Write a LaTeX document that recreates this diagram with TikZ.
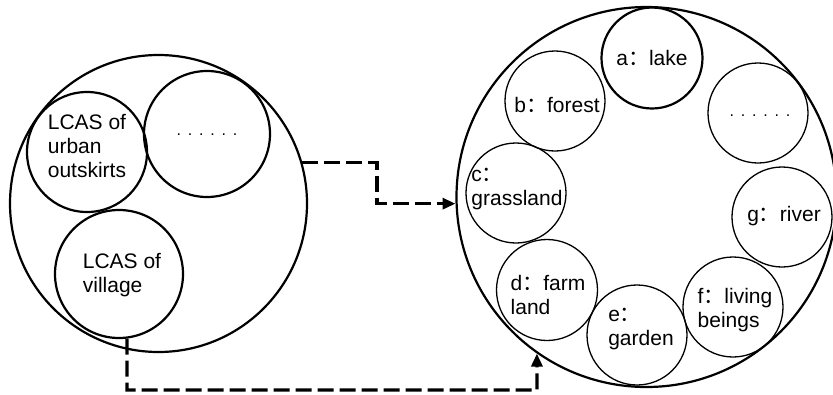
\documentclass[tikz,border=0pt]{standalone}
\usepackage{fontspec}
\setmainfont{Liberation Sans}
\newfontfamily\cjk{Noto Sans CJK SC}
\usetikzlibrary{arrows.meta}

\tikzset{
	zone/.style={draw, circle, inner sep=0pt, line width=1.3pt},
	bold zone/.style={zone, line width=2.2pt},
	tag/.style={align=left, inner sep=0pt, font=\fontsize{21}{24}\selectfont},
	dots/.style={inner sep=0pt, font=\fontsize{16}{18}\selectfont},
	flow/.style={line width=3.2pt, dash pattern=on 16pt off 6pt, -{Triangle[length=13pt,width=11pt]}}
}
\newcommand{\fc}{{\cjk ：}}
\newcommand{\dotrow}{.\hspace{6.8pt}.\hspace{6.8pt}.\hspace{6.8pt}.\hspace{6.8pt}.\hspace{6.8pt}.}

\begin{document}
\begin{tikzpicture}[x=1pt, y=-1pt]
	\useasboundingbox (0,0) rectangle (833,394);
	% landscape of the city
	\node[bold zone, minimum size=297pt] (L) at (158.5,203.5) {};
	\node[bold zone, minimum size=120pt] (U) at (87,152) {};
	\node[bold zone, minimum size=126pt] (M) at (207,134) {};
	\node[bold zone, minimum size=128pt] (V) at (119,274) {};
	\node[tag] at (87,146) {LCAS of\\urban\\outskirts};
	\node[dots, anchor=base] at (207,135) {\dotrow};
	\node[tag] at (122,275) {LCAS of\\village};
	% elements of the landscape
	\node[bold zone, minimum size=380pt] (R) at (646.5,197) {};
	\node[bold zone, minimum size=101pt] (a) at (652,58) {};
	\node[zone, minimum size=100pt] (b) at (555,101) {};
	\node[zone, minimum size=100pt] (c) at (516,193) {};
	\node[zone, minimum size=101pt] (d) at (547,290) {};
	\node[zone, minimum size=100pt] (e) at (637,335) {};
	\node[zone, minimum size=100pt] (f) at (733,307) {};
	\node[zone, minimum size=100pt] (g) at (782,217) {};
	\node[zone, minimum size=100pt] (h) at (758,113) {};
	\node[tag] at (652,58) {a\fc lake};
	\node[tag] at (557,105) {b\fc forest};
	\node[tag] at (517,189) {c\fc\\grassland};
	\node[tag] at (548,295) {d\fc farm\\land};
	\node[tag] at (641,329) {e\fc\\garden};
	\node[tag] at (735,310) {f\fc living\\beings};
	\node[tag] at (784,216) {g\fc river};
	\node[dots, anchor=base] at (760,116) {\dotrow};
	% links
	\coordinate (kink) at (377,183);
	\coordinate (low) at (537,390);
	\draw[flow] (L.16) -| (kink) |- (R.182);
	\draw[flow] (V.-83) |- (low) -- (R.235);
\end{tikzpicture}
\end{document}
